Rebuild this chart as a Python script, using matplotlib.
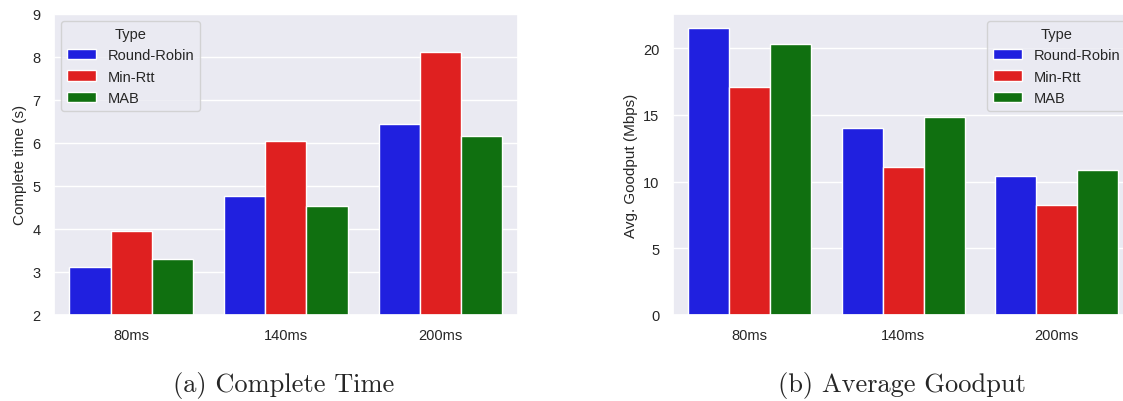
import pandas as pd
import matplotlib
matplotlib.use("Agg")
import matplotlib.pyplot as plt
import seaborn as sns

delays = ["80ms", "140ms", "200ms"]
types = ["Round-Robin", "Min-Rtt", "MAB"]
colors = ["blue", "red", "green"]

# complete time (s), one list per scheduler
time_rr = [3.12, 4.77, 6.44]
time_minrtt = [3.95, 6.05, 8.12]
time_mab = [3.30, 4.53, 6.17]

# average goodput (Mbps)
goodput_rr = [21.5, 14.0, 10.45]
goodput_minrtt = [17.1, 11.08, 8.25]
goodput_mab = [20.3, 14.86, 10.85]


def make_frame(rr, minrtt, mab, col):
    rows = []
    for t, vals in zip(types, [rr, minrtt, mab]):
        for d, v in zip(delays, vals):
            rows.append({"Delay": d, "Type": t, col: v})
    return pd.DataFrame(rows)


time_df = make_frame(time_rr, time_minrtt, time_mab, "time")
goodput_df = make_frame(goodput_rr, goodput_minrtt, goodput_mab, "goodput")

sns.set_theme(style="darkgrid")
plt.rcParams["font.family"] = ["Liberation Sans", "DejaVu Sans"]

fig = plt.figure(figsize=(11.23, 4.02), dpi=100)
ax1 = fig.add_axes([0.048, 0.214, 0.413, 0.749])
ax2 = fig.add_axes([0.599, 0.214, 0.4105, 0.749])

sns.barplot(data=time_df, x="Delay", y="time", hue="Type", palette=colors, ax=ax1)
ax1.set_ylim(2, 9)
ax1.set_xlabel("")
ax1.set_ylabel("Complete time (s)", fontsize=11)
ax1.tick_params(labelsize=10.5)
ax1.legend(title="Type", loc="upper left", fontsize=10.5, title_fontsize=10.5)

sns.barplot(data=goodput_df, x="Delay", y="goodput", hue="Type", palette=colors, ax=ax2)
ax2.set_xlabel("")
ax2.set_ylabel("Avg. Goodput (Mbps)", fontsize=11)
ax2.tick_params(labelsize=10.5)
ax2.legend(title="Type", loc="upper right", fontsize=10.5, title_fontsize=10.5)

fig.text(284 / 1123, 1 - 386 / 402, "(a) Complete Time", family="cmr10",
         fontsize=19, ha="center", va="center")
fig.text(902 / 1123, 1 - 386 / 402, "(b) Average Goodput", family="cmr10",
         fontsize=19, ha="center", va="center")

fig.savefig("out.png", dpi=100)
